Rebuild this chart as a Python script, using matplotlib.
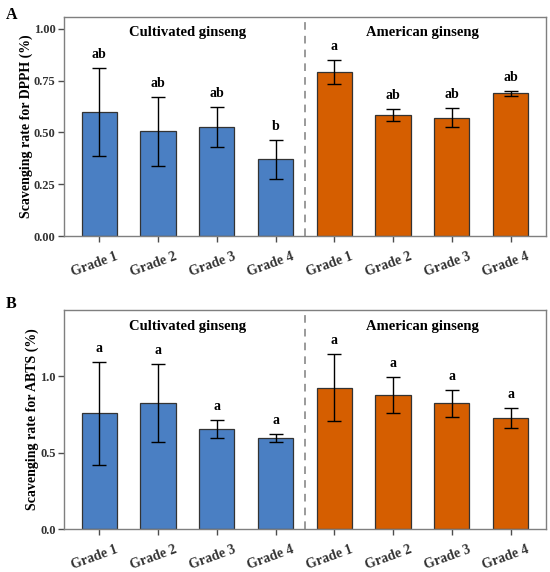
import matplotlib
matplotlib.use('Agg')
import matplotlib.pyplot as plt
import matplotlib.transforms as mtransforms
import numpy as np

plt.rcParams['font.family'] = ['Liberation Serif', 'DejaVu Serif']
plt.rcParams['font.weight'] = 'bold'

grades = ['Grade 1', 'Grade 2', 'Grade 3', 'Grade 4']
groups = ['Cultivated ginseng', 'American ginseng']

# DPPH scavenging rate (mean, sd) - cultivated then American
dpph_mean = [0.60, 0.506, 0.527, 0.371, 0.791, 0.584, 0.571, 0.689]
dpph_sd = [0.213, 0.166, 0.095, 0.093, 0.057, 0.028, 0.045, 0.012]
dpph_letters = ['ab', 'ab', 'ab', 'b', 'a', 'ab', 'ab', 'ab']

# ABTS scavenging rate (mean, sd)
abts_mean = [0.758, 0.825, 0.656, 0.597, 0.925, 0.880, 0.823, 0.727]
abts_sd = [0.337, 0.255, 0.057, 0.028, 0.218, 0.118, 0.089, 0.068]
abts_letters = ['a', 'a', 'a', 'a', 'a', 'a', 'a', 'a']

blue = '#4A7FC3'
orange = '#D55E00'
grey = '#7f7f7f'


def panel(ax, means, sds, letters, ylabel, ylim, yticks, ytlabels, label_off):
    x = np.arange(1, 9)
    colors = [blue] * 4 + [orange] * 4
    ax.bar(x, means, width=0.6, color=colors, edgecolor='#333333', linewidth=0.9, zorder=2)
    ax.errorbar(x, means, yerr=sds, fmt='none', ecolor='black', elinewidth=1.0,
                capsize=5, capthick=1.0, zorder=3)
    for xi, m, s, l in zip(x, means, sds, letters):
        ax.annotate(l, (xi, m + s), xytext=(0, 5), textcoords='offset points',
                    ha='center', va='bottom', fontsize=10, fontweight='bold')
    ax.axvline(4.5, color=grey, linestyle=(0, (5, 4)), linewidth=1.1)
    trans = mtransforms.blended_transform_factory(ax.transData, ax.transAxes)
    ax.text(2.5, label_off, groups[0], transform=trans, ha='center', va='center',
            fontsize=10.5, fontweight='bold')
    ax.text(6.5, label_off, groups[1], transform=trans, ha='center', va='center',
            fontsize=10.5, fontweight='bold')
    ax.set_xlim(0.4, 8.6)
    ax.set_ylim(*ylim)
    ax.set_yticks(yticks)
    ax.set_yticklabels(ytlabels, fontsize=9)
    ax.set_xticks(x)
    ax.set_xticklabels(grades * 2, rotation=20, ha='right', rotation_mode='anchor',
                       fontsize=10)
    ax.tick_params(axis='both', colors='#4d4d4d', length=4, width=1.0,
                   labelcolor='#333333')
    ax.tick_params(axis='x', pad=6)
    ax.tick_params(axis='y', pad=2)
    for sp in ax.spines.values():
        sp.set_color(grey)
        sp.set_linewidth(1.0)
    ax.set_ylabel(ylabel, fontsize=10, fontweight='bold', labelpad=1)
    # shift rotated labels so they sit like ggplot's hjust
    shift = mtransforms.ScaledTranslation(0.16, 0, ax.figure.dpi_scale_trans)
    for lab in ax.get_xticklabels():
        lab.set_transform(lab.get_transform() + shift)


fig = plt.figure(figsize=(5.5, 5.72), dpi=100)
ax1 = fig.add_axes([0.1164, 0.5869, 0.876, 0.384])
ax2 = fig.add_axes([0.1164, 0.0747, 0.876, 0.3834])

panel(ax1, dpph_mean, dpph_sd, dpph_letters, 'Scavenging rate for DPPH (%)',
      (0, 1.058), [0, 0.25, 0.5, 0.75, 1.0], ['0.00', '0.25', '0.50', '0.75', '1.00'], 0.93)
panel(ax2, abts_mean, abts_sd, abts_letters, 'Scavenging rate for ABTS (%)',
      (0, 1.433), [0, 0.5, 1.0], ['0.0', '0.5', '1.0'], 0.924)

fig.text(0.011, 0.988, 'A', fontsize=11.5, fontweight='bold', va='top')
fig.text(0.011, 0.482, 'B', fontsize=11.5, fontweight='bold', va='top')

plt.savefig('out.png', dpi=100)
plt.close()
